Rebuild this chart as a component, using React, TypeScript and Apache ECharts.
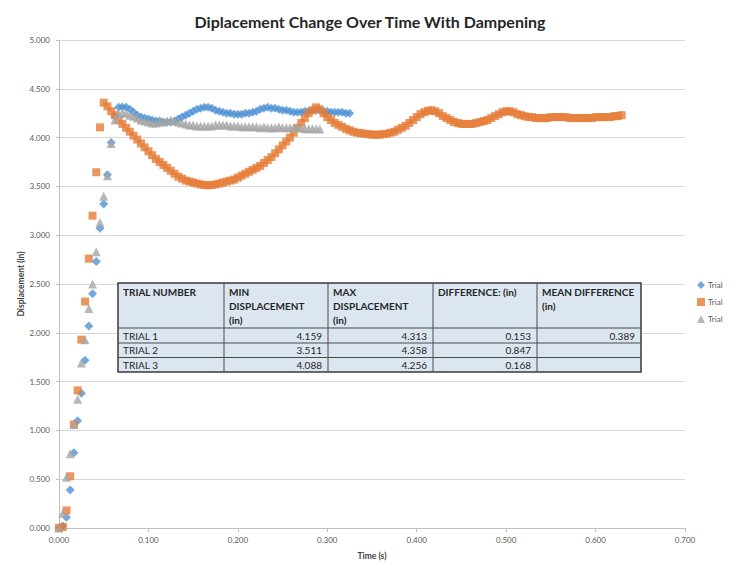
import React, { useEffect, useRef } from "react";
import * as echarts from "echarts";

const TITLE = "Diplacement Change Over Time With Dampening";
const X_LABEL = "Time (s)";
const Y_LABEL = "Displacement (in)";
const SERIES_NAMES = ["Trial 1", "Trial 2", "Trial 3"];
const LEGEND_TEXT = "Trial";

// video frame interval (240 fps)
const FRAME_STEP = 1 / 240;

const trial1 = [
  0, 0.02, 0.11, 0.39, 0.77, 1.10, 1.38, 1.72, 2.07, 2.40,
  2.73, 3.07, 3.32, 3.62, 3.95, 4.22, 4.31, 4.313, 4.31, 4.29,
  4.26, 4.23, 4.21, 4.20, 4.19, 4.18, 4.17, 4.17, 4.16, 4.159,
  4.16, 4.17, 4.19, 4.21, 4.23, 4.25, 4.27, 4.29, 4.30, 4.31,
  4.31, 4.30, 4.28, 4.27, 4.26, 4.25, 4.25, 4.24, 4.24, 4.24,
  4.25, 4.25, 4.26, 4.27, 4.29, 4.30, 4.31, 4.30, 4.30, 4.29,
  4.28, 4.28, 4.27, 4.26, 4.26, 4.26, 4.27, 4.27, 4.28, 4.28,
  4.28, 4.27, 4.27, 4.26, 4.26, 4.26, 4.26, 4.25, 4.25,
];

const trial2 = [
  0, 0.01, 0.18, 0.53, 1.06, 1.41, 1.93, 2.32, 2.76, 3.20,
  3.645, 4.105, 4.358, 4.32, 4.27, 4.23, 4.18, 4.14, 4.10, 4.06,
  4.02, 3.98, 3.94, 3.90, 3.86, 3.82, 3.78, 3.75, 3.72, 3.69,
  3.66, 3.63, 3.60, 3.58, 3.56, 3.55, 3.54, 3.53, 3.52, 3.515,
  3.511, 3.515, 3.52, 3.53, 3.54, 3.55, 3.56, 3.57, 3.59, 3.61,
  3.63, 3.65, 3.67, 3.69, 3.71, 3.74, 3.77, 3.80, 3.84, 3.88,
  3.92, 3.96, 4.00, 4.05, 4.10, 4.15, 4.20, 4.25, 4.28, 4.31,
  4.29, 4.25, 4.21, 4.18, 4.15, 4.13, 4.11, 4.09, 4.075, 4.06,
  4.05, 4.045, 4.04, 4.035, 4.03, 4.03, 4.03, 4.035, 4.04, 4.05,
  4.06, 4.08, 4.10, 4.12, 4.15, 4.18, 4.21, 4.24, 4.26, 4.275,
  4.28, 4.27, 4.25, 4.22, 4.20, 4.18, 4.16, 4.15, 4.14, 4.14,
  4.14, 4.14, 4.15, 4.16, 4.17, 4.18, 4.20, 4.22, 4.24, 4.26,
  4.27, 4.27, 4.26, 4.24, 4.23, 4.22, 4.21, 4.21, 4.20, 4.20,
  4.20, 4.20, 4.21, 4.21, 4.21, 4.21, 4.21, 4.20, 4.20, 4.20,
  4.20, 4.20, 4.20, 4.20, 4.21, 4.21, 4.21, 4.21, 4.21, 4.22,
  4.22, 4.23,
];

const trial3 = [
  0, 0.15, 0.52, 0.76, 1.06, 1.32, 1.69, 1.93, 2.25, 2.50,
  2.83, 3.13, 3.40, 3.61, 3.94, 4.18, 4.24, 4.256, 4.25, 4.23,
  4.22, 4.20, 4.18, 4.17, 4.16, 4.15, 4.15, 4.16, 4.16, 4.17,
  4.18, 4.17, 4.16, 4.15, 4.14, 4.13, 4.13, 4.12, 4.12, 4.12,
  4.12, 4.12, 4.13, 4.13, 4.13, 4.13, 4.12, 4.12, 4.12, 4.11,
  4.11, 4.11, 4.11, 4.11, 4.10, 4.11, 4.10, 4.10, 4.10, 4.11,
  4.10, 4.10, 4.10, 4.10, 4.10, 4.10, 4.09, 4.09, 4.09, 4.09,
  4.088,
];

// summary table
const TABLE_HEADERS = [
  ["TRIAL NUMBER"],
  ["MIN", "DISPLACEMENT", "(in)"],
  ["MAX", "DISPLACEMENT", "(in)"],
  ["DIFFERENCE: (in)"],
  ["MEAN DIFFERENCE", "(in)"],
];
const TABLE_ROWS = [
  ["TRIAL 1", "4.159", "4.313", "0.153", "0.389"],
  ["TRIAL 2", "3.511", "4.358", "0.847", ""],
  ["TRIAL 3", "4.088", "4.256", "0.168", ""],
];

const COLORS = ["#4F92D6", "#E67C37", "#A5A5A5"];
const SYMBOLS = ["diamond", "rect", "triangle"];
const SYMBOL_SIZES = [9, 8, 9];
const FONT = "Lato, 'Open Sans', sans-serif";

function toPairs(vals: number[]) {
  return vals.map((v, i) => [i * FRAME_STEP, v]);
}

function buildTable() {
  const colX = [118, 224, 328, 433, 537, 641];
  const rowY = [283, 328, 343, 357.5, 372];
  const els: any[] = [];
  els.push({
    type: "rect",
    z: 100,
    shape: { x: colX[0], y: rowY[0], width: colX[5] - colX[0], height: rowY[4] - rowY[0] },
    style: { fill: "#DCE6F1", stroke: "#3a3a3a", lineWidth: 1.5 },
  });
  for (let i = 1; i < colX.length - 1; i++) {
    els.push({
      type: "line",
      z: 101,
      shape: { x1: colX[i], y1: rowY[0], x2: colX[i], y2: rowY[4] },
      style: { stroke: "#4a4a4a", lineWidth: 1 },
    });
  }
  for (let j = 1; j < rowY.length - 1; j++) {
    els.push({
      type: "line",
      z: 101,
      shape: { x1: colX[0], y1: rowY[j], x2: colX[5], y2: rowY[j] },
      style: { stroke: "#4a4a4a", lineWidth: 1 },
    });
  }
  TABLE_HEADERS.forEach((lines, c) => {
    lines.forEach((ln, li) => {
      els.push({
        type: "text",
        z: 102,
        x: colX[c] + 5,
        y: 292 + li * 14,
        style: {
          text: ln,
          fill: "#262626",
          fontFamily: FONT,
          fontSize: 10,
          fontWeight: "bold",
          align: "left",
          verticalAlign: "middle",
        },
      });
    });
  });
  TABLE_ROWS.forEach((row, r) => {
    const cy = (rowY[r + 1] + rowY[r + 2]) / 2;
    row.forEach((cell, c) => {
      if (!cell) return;
      const left = c === 0;
      els.push({
        type: "text",
        z: 102,
        x: left ? colX[c] + 5 : colX[c + 1] - 6,
        y: cy,
        style: {
          text: cell,
          fill: "#262626",
          fontFamily: FONT,
          fontSize: 10,
          align: left ? "left" : "right",
          verticalAlign: "middle",
        },
      });
    });
  });
  return els;
}

export default function App() {
  const ref = useRef<HTMLDivElement>(null);
  useEffect(() => {
    if (!ref.current) return;
    const chart = echarts.init(ref.current, undefined, { renderer: "svg" });
    const datasets = [trial1, trial2, trial3];
    chart.setOption({
      animation: false,
      backgroundColor: "#ffffff",
      title: {
        text: TITLE,
        left: "center",
        top: 8,
        textStyle: { fontFamily: FONT, fontSize: 16, fontWeight: "bold", color: "#262626" },
      },
      legend: {
        orient: "vertical",
        left: 692,
        top: 276,
        itemGap: 9,
        itemWidth: 8,
        itemHeight: 8,
        data: SERIES_NAMES,
        formatter: () => LEGEND_TEXT,
        textStyle: { fontFamily: FONT, fontSize: 8, color: "#595959", padding: [0, 0, 0, -2] },
      },
      grid: { left: 59, right: 55, top: 40, bottom: 36, containLabel: false },
      xAxis: {
        type: "value",
        min: 0,
        max: 0.7,
        interval: 0.1,
        name: X_LABEL,
        nameLocation: "middle",
        nameGap: 23,
        nameMoveOverlap: false,
        nameTextStyle: { fontFamily: FONT, fontSize: 8.5, fontWeight: "bold", color: "#404040" },
        axisLine: { show: true, lineStyle: { color: "#BFBFBF" } },
        axisTick: { show: true, length: 4, lineStyle: { color: "#BFBFBF" } },
        splitLine: { show: false },
        axisLabel: {
          formatter: (v: number) => v.toFixed(3),
          fontFamily: FONT,
          fontSize: 8,
          color: "#595959",
          margin: 8,
        },
      },
      yAxis: {
        type: "value",
        min: 0,
        max: 5,
        interval: 0.5,
        name: Y_LABEL,
        nameLocation: "middle",
        nameRotate: 90,
        nameGap: 34,
        nameMoveOverlap: false,
        nameTextStyle: { fontFamily: FONT, fontSize: 8.5, fontWeight: "bold", color: "#404040" },
        axisLine: { show: true, lineStyle: { color: "#BFBFBF" } },
        axisTick: { show: true, length: 3, lineStyle: { color: "#BFBFBF" } },
        splitLine: { show: true, lineStyle: { color: "#D9D9D9" } },
        axisLabel: {
          formatter: (v: number) => v.toFixed(3),
          fontFamily: FONT,
          fontSize: 8,
          color: "#595959",
          margin: 9,
        },
      },
      series: SERIES_NAMES.map((name, i) => ({
        name,
        type: "scatter",
        data: toPairs(datasets[i]),
        symbol: SYMBOLS[i],
        symbolSize: SYMBOL_SIZES[i],
        itemStyle: { color: COLORS[i] },
        z: 2 + i,
      })),
      graphic: buildTable(),
    });
    return () => chart.dispose();
  }, []);
  return (
    <div
      ref={ref}
      style={{ position: "fixed", left: 0, top: 0, width: 740, height: 565, background: "#fff" }}
    />
  );
}
